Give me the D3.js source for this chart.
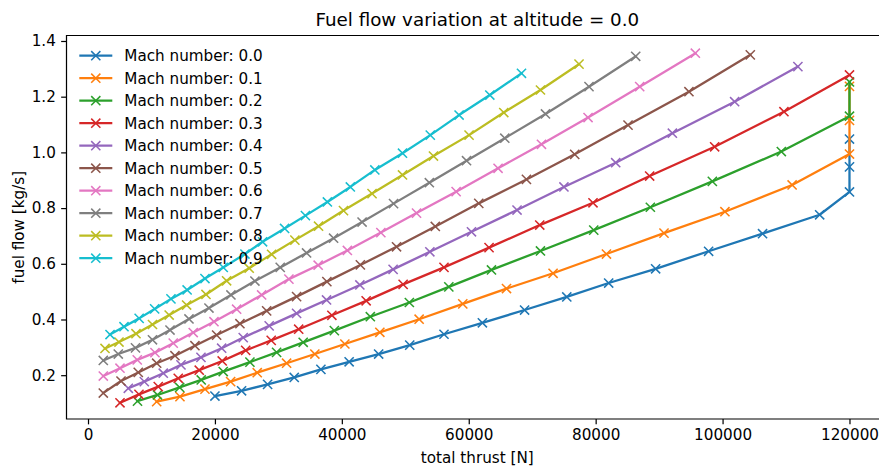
<!DOCTYPE html>
<html>
<head>
<meta charset="utf-8">
<script src="https://cdn.jsdelivr.net/npm/d3@7"></script>
<style>
  body { margin: 0; background: #fff; }
  svg { display: block; font-family: "DejaVu Sans", sans-serif; }
</style>
</head>
<body>
<div id="fuel-chart"></div>
<script>
// Data: total thrust [N] and fuel flow [kg/s] per Mach number
const machNumbers = ["0.0", "0.1", "0.2", "0.3", "0.4", "0.5", "0.6", "0.7", "0.8", "0.9"];
const colors = ["#1f77b4", "#ff7f0e", "#2ca02c", "#d62728", "#9467bd", "#8c564b", "#e377c2", "#7f7f7f", "#bcbd22", "#17becf"];

const thrust00 = [20000, 24200, 28300, 32500, 36700, 41150, 45800, 50700, 56100, 62150, 68800, 75450, 82050, 89450, 97800, 106300, 115300, 120000, 120000, 120000];
const fuel00   = [0.125, 0.144, 0.167, 0.192, 0.221, 0.248, 0.276, 0.308, 0.347, 0.388, 0.434, 0.481, 0.531, 0.582, 0.645, 0.708, 0.776, 0.858, 0.948, 1.048];

const thrust01 = [10820, 14490, 18430, 22475, 26665, 31295, 35750, 40480, 45990, 52180, 59060, 65950, 73290, 81700, 90770, 100370, 110960, 120000, 120000, 120000];
const fuel01   = [0.105, 0.123, 0.150, 0.177, 0.209, 0.243, 0.276, 0.312, 0.354, 0.401, 0.456, 0.511, 0.566, 0.635, 0.710, 0.787, 0.883, 0.994, 1.115, 1.237];

const thrust02 = [7800, 10950, 14440, 17840, 21310, 25515, 29720, 33910, 38820, 44490, 50640, 56860, 63580, 71300, 79700, 88620, 98390, 109260, 120000, 120000];
const fuel02   = [0.107, 0.129, 0.156, 0.183, 0.213, 0.247, 0.282, 0.318, 0.360, 0.410, 0.461, 0.517, 0.578, 0.646, 0.721, 0.803, 0.896, 1.003, 1.130, 1.253];

const thrust03 = [5040, 8030, 11070, 14220, 17530, 21150, 24850, 28870, 33200, 38430, 43830, 49660, 56100, 63200, 71190, 79580, 88510, 98750, 109670, 120000];
const fuel03   = [0.101, 0.131, 0.159, 0.189, 0.218, 0.251, 0.289, 0.325, 0.365, 0.415, 0.467, 0.526, 0.587, 0.658, 0.739, 0.819, 0.915, 1.020, 1.146, 1.278];

const thrust04 = [6350, 8870, 11860, 14650, 17800, 21060, 24460, 28550, 32870, 37590, 42840, 48080, 53870, 60430, 67610, 75000, 83160, 92090, 101900, 111870];
const fuel04   = [0.153, 0.177, 0.207, 0.237, 0.264, 0.297, 0.335, 0.377, 0.422, 0.470, 0.524, 0.580, 0.643, 0.715, 0.793, 0.876, 0.963, 1.069, 1.182, 1.308];

const thrust05 = [2410, 5200, 7920, 10820, 13700, 16850, 20270, 23940, 28150, 32870, 37640, 42920, 48620, 54730, 61580, 69090, 76700, 85100, 94700, 104370];
const fuel05   = [0.136, 0.179, 0.210, 0.243, 0.270, 0.306, 0.344, 0.385, 0.431, 0.482, 0.536, 0.596, 0.661, 0.734, 0.817, 0.903, 0.993, 1.098, 1.218, 1.350];

const thrust06 = [2410, 5040, 7760, 10550, 13430, 16580, 19850, 23420, 27360, 31660, 36270, 40870, 46150, 51770, 58010, 64620, 71460, 78800, 86940, 95710];
const fuel06   = [0.197, 0.225, 0.255, 0.281, 0.315, 0.353, 0.392, 0.437, 0.488, 0.545, 0.595, 0.648, 0.712, 0.782, 0.859, 0.943, 1.029, 1.125, 1.236, 1.356];

const thrust07 = [2410, 4770, 7480, 10160, 12920, 15910, 19060, 22520, 26300, 30290, 34440, 38700, 43190, 48150, 53790, 59650, 65680, 72090, 78950, 86310];
const fuel07   = [0.253, 0.276, 0.298, 0.327, 0.362, 0.402, 0.441, 0.488, 0.538, 0.587, 0.639, 0.692, 0.750, 0.816, 0.891, 0.970, 1.051, 1.138, 1.236, 1.345];

const thrust08 = [2680, 4880, 7560, 10160, 12790, 15540, 18590, 21840, 25400, 28930, 32600, 36330, 40260, 44760, 49560, 54440, 60050, 65520, 71300, 77380];
const fuel08   = [0.296, 0.319, 0.349, 0.382, 0.416, 0.452, 0.490, 0.539, 0.584, 0.634, 0.685, 0.735, 0.791, 0.852, 0.919, 0.987, 1.062, 1.143, 1.224, 1.317];

const thrust09 = [3470, 5670, 8060, 10500, 13070, 15620, 18430, 21310, 24730, 27510, 30980, 34260, 37720, 41340, 45200, 49560, 53940, 58480, 63320, 68310];
const fuel09   = [0.346, 0.374, 0.404, 0.438, 0.474, 0.506, 0.547, 0.587, 0.635, 0.679, 0.727, 0.773, 0.822, 0.876, 0.937, 0.997, 1.062, 1.134, 1.206, 1.284];

const thrustSeries = [thrust00, thrust01, thrust02, thrust03, thrust04, thrust05, thrust06, thrust07, thrust08, thrust09];
const fuelSeries = [fuel00, fuel01, fuel02, fuel03, fuel04, fuel05, fuel06, fuel07, fuel08, fuel09];

const xTicks = [0, 20000, 40000, 60000, 80000, 100000, 120000];
const yTicks = [0.2, 0.4, 0.6, 0.8, 1.0, 1.2, 1.4];

// Dimensions (the right spine falls just outside the picture, like the original)
const W = 879, H = 467;
const margin = { top: 35.5, left: 66.5 };
const width = 888 - margin.left;
const height = 419 - margin.top;
const fontSize = 15.2;

const svg = d3.select("#fuel-chart")
    .append("svg")
    .attr("width", W)
    .attr("height", H);

const g = svg.append("g")
    .attr("transform", `translate(${margin.left},${margin.top})`);

// Scales
const xScale = d3.scaleLinear().domain([-3390, 126070]).range([0, width]);
const yScale = d3.scaleLinear().domain([0.0427, 1.4197]).range([height, 0]);

// Clip lines to the axes area
svg.append("defs").append("clipPath")
    .attr("id", "plot-clip")
    .append("rect")
    .attr("width", width)
    .attr("height", height);

// Axes
const xAxis = g.append("g")
    .attr("transform", `translate(0,${height})`)
    .call(d3.axisBottom(xScale).tickValues(xTicks).tickFormat(d3.format("d"))
        .tickSizeOuter(0).tickSize(5.35).tickPadding(5.35));

const yAxis = g.append("g")
    .call(d3.axisLeft(yScale).tickValues(yTicks).tickFormat(d3.format(".1f"))
        .tickSizeOuter(0).tickSize(5.35).tickPadding(5.35));

[xAxis, yAxis].forEach(ax => {
    ax.select(".domain").remove();
    ax.attr("font-family", null).attr("font-size", null);
    ax.selectAll("line").attr("stroke", "#000").attr("stroke-width", 1.22);
    ax.selectAll("text").attr("fill", "#000").style("font-size", fontSize + "px");
});

// Lines and x markers
const line = d3.line()
    .x(d => xScale(d[0]))
    .y(d => yScale(d[1]));

const plot = g.append("g").attr("clip-path", "url(#plot-clip)");
const m = 4.58; // half marker size

function xMarker(sel, color) {
    sel.append("path")
        .attr("d", `M${-m},${-m}L${m},${m}M${-m},${m}L${m},${-m}`)
        .attr("stroke", color)
        .attr("stroke-width", 1.53)
        .attr("fill", "none");
}

machNumbers.forEach((mach, i) => {
    const pts = d3.zip(thrustSeries[i], fuelSeries[i]);
    const s = plot.append("g");
    s.append("path")
        .datum(pts)
        .attr("fill", "none")
        .attr("stroke", colors[i])
        .attr("stroke-width", 2.29)
        .attr("stroke-linejoin", "round")
        .attr("stroke-linecap", "square")
        .attr("d", line);
    pts.forEach(p => {
        const mk = s.append("g").attr("transform", `translate(${xScale(p[0])},${yScale(p[1])})`);
        xMarker(mk, colors[i]);
    });
});

// Spines (left, top, bottom)
g.append("path")
    .attr("d", `M${width},0H0V${height}H${width}`)
    .attr("fill", "none")
    .attr("stroke", "#000")
    .attr("stroke-width", 1.22);

// Legend (no frame)
const legend = g.append("g").attr("transform", `translate(${79.3 - margin.left},${55.7 - margin.top})`);
machNumbers.forEach((mach, i) => {
    const row = legend.append("g").attr("transform", `translate(0,${i * 22.5})`);
    row.append("line")
        .attr("x1", 0).attr("x2", 33)
        .attr("stroke", colors[i])
        .attr("stroke-width", 2.29);
    xMarker(row.append("g").attr("transform", "translate(16.5,0)"), colors[i]);
    row.append("text")
        .attr("x", 45)
        .attr("dy", "0.36em")
        .style("font-size", fontSize + "px")
        .text(`Mach number: ${mach}`);
});

// Title
svg.append("text")
    .attr("x", margin.left + width / 2)
    .attr("y", 26)
    .attr("text-anchor", "middle")
    .style("font-size", "18.3px")
    .text("Fuel flow variation at altitude = 0.0");

// X-axis label
svg.append("text")
    .attr("x", margin.left + width / 2)
    .attr("y", 463)
    .attr("text-anchor", "middle")
    .style("font-size", fontSize + "px")
    .text("total thrust [N]");

// Y-axis label
svg.append("text")
    .attr("transform", `translate(24,${margin.top + height / 2}) rotate(-90)`)
    .attr("text-anchor", "middle")
    .style("font-size", fontSize + "px")
    .text("fuel flow [kg/s]");
</script>
</body>
</html>
